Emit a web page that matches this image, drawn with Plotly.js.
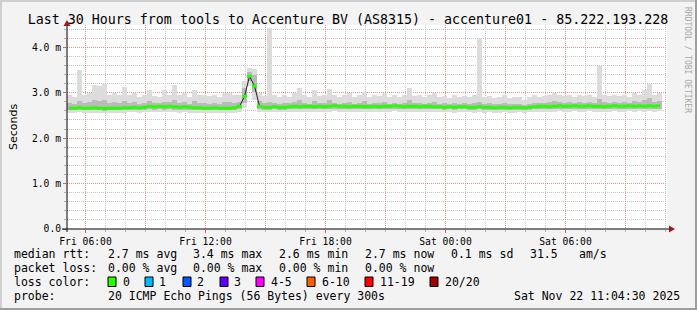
<!DOCTYPE html>
<html><head><meta charset="utf-8">
<script src="https://cdn.plot.ly/plotly-3.0.1.min.js"></script>
<style>html,body{margin:0;padding:0;background:#f3f3f3}</style>
</head><body><div id="chart" style="width:697px;height:310px"></div>
<script>
// ---- data (milliseconds), one value per 15-minute column starting Fri 2025-11-21 05:04:30 ----
const med = [
2.66,2.66,2.67,2.66,2.66,2.67,2.66,2.65,2.66,2.66,
2.66,2.67,2.67,2.68,2.67,2.68,2.70,2.69,2.70,2.69,
2.70,2.69,2.68,2.69,2.68,2.67,2.67,2.66,2.66,2.67,
2.66,2.66,2.66,2.67,2.70,2.92,3.36,3.15,2.70,2.68,
2.68,2.69,2.68,2.68,2.69,2.70,2.69,2.70,2.70,2.69,
2.70,2.69,2.70,2.71,2.70,2.70,2.69,2.70,2.70,2.69,
2.69,2.70,2.69,2.70,2.70,2.71,2.70,2.69,2.70,2.70,
2.69,2.70,2.70,2.69,2.69,2.68,2.69,2.68,2.69,2.69,
2.68,2.68,2.69,2.68,2.68,2.67,2.68,2.68,2.67,2.68,
2.68,2.67,2.68,2.69,2.70,2.70,2.69,2.70,2.71,2.70,
2.70,2.71,2.70,2.70,2.71,2.70,2.70,2.69,2.70,2.71,
2.70,2.70,2.71,2.70,2.71,2.70,2.71,2.70,2.71,null];
const smokeMax = [
2.95,2.90,3.50,2.95,3.00,3.18,3.15,3.20,2.95,3.00,
2.95,3.13,2.95,3.00,2.90,2.95,3.05,2.92,2.90,3.05,
2.95,3.17,2.95,3.00,2.90,3.06,2.95,2.95,2.92,2.95,
2.90,3.00,3.00,2.95,2.95,3.25,3.55,3.52,3.00,2.92,
4.43,2.95,2.90,2.95,2.90,3.00,3.10,2.95,2.90,3.05,
2.92,2.95,3.08,2.95,2.90,2.95,3.00,2.90,2.95,3.02,
2.90,2.95,2.92,3.00,2.90,2.95,2.90,2.95,3.10,2.92,
2.95,2.90,2.95,3.00,2.90,2.92,2.88,2.95,2.90,2.92,
2.90,2.95,4.20,2.90,2.92,2.88,2.90,2.95,2.88,2.90,
2.90,2.85,2.90,2.95,2.90,2.92,2.95,3.00,2.95,2.92,
2.95,2.90,2.95,2.92,2.95,2.90,3.58,2.95,2.92,2.95,
2.92,2.95,2.90,3.00,2.95,3.05,3.20,2.95,3.00,null];
const smokeHi = [
2.78,2.76,2.82,2.77,2.79,2.85,2.82,2.83,2.77,2.79,
2.77,2.81,2.77,2.79,2.76,2.78,2.81,2.77,2.78,2.80,
2.79,2.83,2.77,2.79,2.76,2.81,2.78,2.77,2.76,2.77,
2.76,2.79,2.79,2.77,2.80,3.10,3.45,3.40,2.82,2.77,
2.79,2.77,2.76,2.78,2.77,2.80,2.85,2.78,2.76,2.81,
2.77,2.78,2.83,2.78,2.76,2.78,2.80,2.76,2.78,2.81,
2.76,2.78,2.77,2.80,2.76,2.78,2.76,2.77,2.83,2.77,
2.78,2.76,2.78,2.80,2.76,2.77,2.75,2.78,2.76,2.77,
2.75,2.77,2.79,2.76,2.77,2.75,2.76,2.77,2.75,2.76,
2.76,2.74,2.76,2.78,2.77,2.78,2.79,2.81,2.79,2.77,
2.79,2.78,2.79,2.78,2.79,2.77,2.87,2.79,2.78,2.79,
2.78,2.79,2.78,2.81,2.79,2.83,2.89,2.79,2.81,null];
const smokeLo = [
2.61,2.61,2.62,2.61,2.61,2.62,2.61,2.60,2.61,2.61,
2.61,2.62,2.62,2.63,2.62,2.63,2.64,2.63,2.64,2.63,
2.64,2.63,2.62,2.63,2.62,2.62,2.62,2.61,2.61,2.62,
2.61,2.61,2.61,2.62,2.64,2.78,3.25,3.02,2.64,2.63,
2.63,2.64,2.63,2.63,2.64,2.64,2.64,2.64,2.65,2.64,
2.64,2.64,2.65,2.65,2.64,2.65,2.64,2.64,2.65,2.64,
2.64,2.64,2.64,2.65,2.64,2.65,2.64,2.64,2.65,2.64,
2.64,2.65,2.64,2.64,2.64,2.63,2.64,2.63,2.64,2.64,
2.63,2.63,2.64,2.63,2.63,2.62,2.63,2.63,2.62,2.63,
2.63,2.62,2.63,2.64,2.65,2.64,2.64,2.65,2.65,2.65,
2.65,2.65,2.65,2.64,2.65,2.65,2.64,2.64,2.65,2.65,
2.65,2.65,2.65,2.65,2.65,2.64,2.65,2.65,2.65,null];
const smokeMin = [
2.56,2.55,2.57,2.56,2.55,2.56,2.56,2.55,2.56,2.55,
2.56,2.56,2.57,2.57,2.56,2.57,2.58,2.57,2.58,2.57,
2.58,2.57,2.56,2.57,2.56,2.56,2.56,2.55,2.56,2.56,
2.55,2.56,2.56,2.56,2.58,2.66,3.15,2.85,2.58,2.57,
2.57,2.58,2.57,2.57,2.58,2.58,2.57,2.58,2.58,2.58,
2.58,2.57,2.58,2.59,2.58,2.58,2.58,2.58,2.58,2.57,
2.58,2.58,2.57,2.58,2.58,2.59,2.58,2.58,2.58,2.58,
2.57,2.58,2.58,2.58,2.57,2.57,2.57,2.56,2.57,2.57,
2.57,2.56,2.57,2.56,2.57,2.56,2.56,2.57,2.56,2.56,
2.57,2.56,2.57,2.58,2.58,2.58,2.58,2.58,2.59,2.58,
2.58,2.59,2.58,2.58,2.59,2.58,2.58,2.58,2.58,2.59,
2.58,2.58,2.59,2.58,2.59,2.58,2.59,2.58,2.59,null];

const yTickVals = [0,1,2,3,4];
const yTickText = ['0.0','1.0 m','2.0 m','3.0 m','4.0 m'];
const xTickText = ['Fri 06:00','','Fri 12:00','','Fri 18:00','','Sat 00:00','','Sat 06:00',''];

const titleText = 'Last 30 Hours from tools to Accenture BV (AS8315) - accenture01 - 85.222.193.228';
const rttStats = ['2.7 ms avg','3.4 ms max','2.6 ms min','2.7 ms now','0.1 ms sd','31.5','am/s'];
const lossStats = ['0.00 % avg','0.00 % max','0.00 % min','0.00 % now'];
const lossLabels = ['0','1','2','3','4-5','6-10','11-19','20/20'];
const lossColors = ['#26ff00','#00b8ff','#0059ff','#5e00ff','#ff00ff','#ff5e00','#ff0000','#a10000'];
const probeText = '20 ICMP Echo Pings (56 Bytes) every 300s';
const stampText = 'Sat Nov 22 11:04:30 2025';

// ---- time axis helpers ----
const H = 3600000, STEP = 15*60000;
const t0 = Date.UTC(2025,10,21,5,4,30);
function fmt(ms){const d=new Date(ms);const p=n=>String(n).padStart(2,'0');
  return d.getUTCFullYear()+'-'+p(d.getUTCMonth()+1)+'-'+p(d.getUTCDate())+' '+p(d.getUTCHours())+':'+p(d.getUTCMinutes())+':'+p(d.getUTCSeconds());}
const xs = med.map((_,i)=>fmt(t0+(i+0.5)*STEP));
const firstTick = Date.UTC(2025,10,21,6,0,0);
const majorVals = xTickText.map((_,i)=>fmt(firstTick+i*3*H));
const minorVals = []; for(let k=0;k<30;k++) minorVals.push(fmt(firstTick+k*H));

// pixel -> paper helpers (plot area: x 67..667, y 25..229)
const L=67,R=667,T=25,B=229;
const px = x => (x-L)/(R-L);
const py = y => (B-y)/(B-T);

const YMAX = 4.49;
const band = 1.5*YMAX/(B-T); // half-thickness of the median band (px -> ms)

const diff = (a,b)=>a.map((v,i)=>v==null?null:v-b[i]);
const traces = [
  {type:'bar', x:xs, base:smokeMin, y:diff(smokeMax,smokeMin), width:STEP, marker:{color:'#dcdcdc',line:{width:0}}, hoverinfo:'skip'},
  {type:'bar', x:xs, base:smokeLo, y:diff(smokeHi,smokeLo), width:STEP, marker:{color:'#bababa',line:{width:0}}, hoverinfo:'skip'},
  {type:'scatter', mode:'lines', x:xs, y:med, line:{color:'#202020',width:1}, hoverinfo:'skip'},
  {type:'scatter', mode:'lines', x:xs, y:med.map(v=>v==null?null:v-band), line:{width:0,shape:'hvh'}, hoverinfo:'skip'},
  {type:'scatter', mode:'lines', x:xs, y:med.map(v=>v==null?null:v+band), line:{width:0,shape:'hvh'}, fill:'tonexty', fillcolor:lossColors[0], hoverinfo:'skip'}
];

const mono = 'DejaVu Sans Mono';
const ann = [];
function txt(x,y,text,opts={}){ann.push(Object.assign({xref:'paper',yref:'paper',x:px(x),y:py(y),text:text,showarrow:false,xanchor:'left',yanchor:'middle',font:{family:mono,size:11.5,color:'#000'},borderpad:0},opts));}
const rowY=[254,268,282,296];
txt(13,rowY[0],'median rtt:');
[107,192,278,364,450,529,578].forEach((x,i)=>txt(x,rowY[0],rttStats[i]));
txt(13,rowY[1],'packet loss:');
[107,192,278,364].forEach((x,i)=>txt(x,rowY[1],lossStats[i]));
txt(13,rowY[2],'loss color:');
const boxX=[108,145,183,220,256,307,365,430];
const labX=[122,158,196,233,270,321,379,444];
lossLabels.forEach((l,i)=>txt(labX[i],rowY[2],l));
txt(13,rowY[3],'probe:');
txt(107,rowY[3],probeText);
txt(681,rowY[3],stampText,{xanchor:'right'});
ann.push({xref:'paper',yref:'paper',x:px(687),y:py(60),text:'RRDTOOL / TOBI OETIKER',textangle:90,showarrow:false,xanchor:'center',yanchor:'middle',font:{family:mono,size:8,color:'#a8a8a8'}});

const shapes = [];
boxX.forEach((x,i)=>shapes.push({type:'rect',xref:'paper',yref:'paper',x0:px(x),x1:px(x+8),y0:py(277),y1:py(286.5),fillcolor:lossColors[i],line:{color:'#000',width:1}}));
// axis lines with arrows
shapes.push({type:'line',xref:'paper',yref:'paper',x0:px(62),x1:px(669),y0:0,y1:0,line:{color:'#000',width:1}});
shapes.push({type:'path',xref:'paper',yref:'paper',path:`M ${px(669)} ${py(225.5)} L ${px(675)} 0 L ${px(669)} ${py(232.5)} Z`,fillcolor:'#a01818',line:{width:0}});
shapes.push({type:'line',xref:'paper',yref:'paper',x0:0,x1:0,y0:py(232),y1:py(25),line:{color:'#000',width:1}});
shapes.push({type:'path',xref:'paper',yref:'paper',path:`M ${px(63.5)} ${py(26)} L 0 ${py(20)} L ${px(70.5)} ${py(26)} Z`,fillcolor:'#a01818',line:{width:0}});
// 3D frame
shapes.push({type:'rect',xref:'paper',yref:'paper',x0:px(0),x1:px(697),y0:py(0),y1:py(2),fillcolor:'#cfcfcf',line:{width:0},layer:'below'});
shapes.push({type:'rect',xref:'paper',yref:'paper',x0:px(0),x1:px(2),y0:py(0),y1:py(310),fillcolor:'#cfcfcf',line:{width:0},layer:'below'});
shapes.push({type:'rect',xref:'paper',yref:'paper',x0:px(0),x1:px(697),y0:py(308),y1:py(310),fillcolor:'#9e9e9e',line:{width:0},layer:'below'});
shapes.push({type:'rect',xref:'paper',yref:'paper',x0:px(695),x1:px(697),y0:py(0),y1:py(310),fillcolor:'#9e9e9e',line:{width:0},layer:'below'});

const layout = {
  width:697, height:310,
  margin:{l:L, r:697-R, t:T, b:310-B, pad:0},
  paper_bgcolor:'#f3f3f3', plot_bgcolor:'#ffffff',
  showlegend:false, barmode:'overlay', bargap:0,
  title:{text:titleText, font:{family:mono,size:13.3,color:'#000'}, x:348/697, xref:'container', xanchor:'center', y:1-19/310, yref:'container', yanchor:'middle'},
  xaxis:{type:'date', range:[fmt(t0),fmt(t0+30*H)], tickmode:'array', tickvals:majorVals, ticktext:xTickText,
    showgrid:true, gridcolor:'#eb8f8f', griddash:'1px,1px', gridwidth:1,
    ticks:'outside', ticklen:3, tickcolor:'#e06060', tickwidth:1,
    minor:{tickmode:'array', tickvals:minorVals, showgrid:true, gridcolor:'#c4c4c4', griddash:'1px,1px', ticks:'outside', ticklen:2, tickcolor:'#b0b0b0'},
    showline:false, zeroline:false, fixedrange:true,
    tickfont:{family:mono,size:9.7,color:'#000'}},
  yaxis:{range:[0,YMAX], tickmode:'array', tickvals:yTickVals, ticktext:yTickText,
    showgrid:true, gridcolor:'#eb8f8f', griddash:'1px,1px', gridwidth:1,
    ticks:'outside', ticklen:3, tickcolor:'#e06060',
    minor:{dtick:0.2, tick0:0, showgrid:true, gridcolor:'#c4c4c4', griddash:'1px,1px', ticks:'outside', ticklen:2, tickcolor:'#b0b0b0'},
    showline:false, zeroline:false, fixedrange:true,
    tickfont:{family:mono,size:9.7,color:'#000'},
    title:{text:'Seconds', font:{family:'DejaVu Sans',size:11,color:'#000'}, standoff:12}},
  annotations:ann, shapes:shapes
};
Plotly.newPlot('chart', traces, layout, {staticPlot:true, displayModeBar:false});
</script></body></html>
